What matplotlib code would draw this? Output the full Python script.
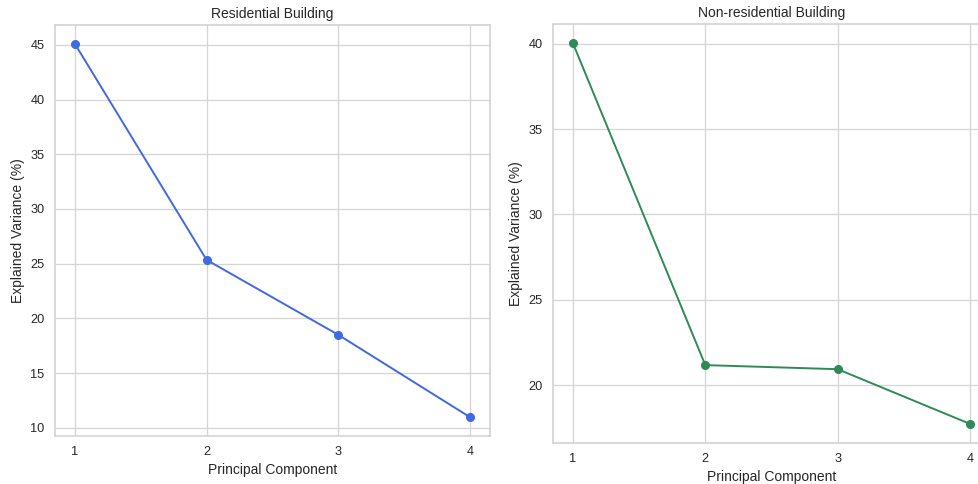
import matplotlib
matplotlib.use('Agg')
import matplotlib.pyplot as plt
import seaborn as sns

# Datos
componentes = [1, 2, 3, 4]
var_residencial = [45.1, 25.35, 18.5, 10.97]
var_no_residencial = [40.05, 21.17, 20.93, 17.72]

sns.set_style('whitegrid')
plt.rcParams['font.family'] = ['Liberation Sans', 'DejaVu Sans']
plt.rcParams['text.color'] = '#262626'
plt.rcParams['axes.labelcolor'] = '#262626'
plt.rcParams['xtick.color'] = '#262626'
plt.rcParams['ytick.color'] = '#262626'

W, H = 979, 484
fig = plt.figure(figsize=(W / 100, H / 100), dpi=100)

# Posiciones en pixeles (izq, arriba, ancho, alto); el panel derecho se sale del borde
def px_axes(x0, y0, w, h):
    return fig.add_axes([x0 / W, 1 - (y0 + h) / H, w / W, h / H])

ax1 = px_axes(55, 25, 435, 411)
ax2 = px_axes(553, 24, 437, 419)

paneles = [
    (ax1, var_residencial, 'royalblue', 'Residential Building'),
    (ax2, var_no_residencial, 'seagreen', 'Non-residential Building'),
]

for ax, valores, color, titulo in paneles:
    ax.plot(componentes, valores, marker='o', color=color, linewidth=1.4, markersize=5.5)
    ax.set_title(titulo, fontsize=10, pad=5)
    ax.set_xlabel('Principal Component', fontsize=10, labelpad=3)
    ax.set_ylabel('Explained Variance (%)', fontsize=10)
    ax.set_xticks(componentes)
    ax.tick_params(labelsize=9.2, pad=4)
    ax.grid(color='#d5d5d5', linewidth=0.9)
    for s in ax.spines.values():
        s.set_color('#d0d0d0')
        s.set_linewidth(1.1)

fig.savefig('out.png', dpi=100)
